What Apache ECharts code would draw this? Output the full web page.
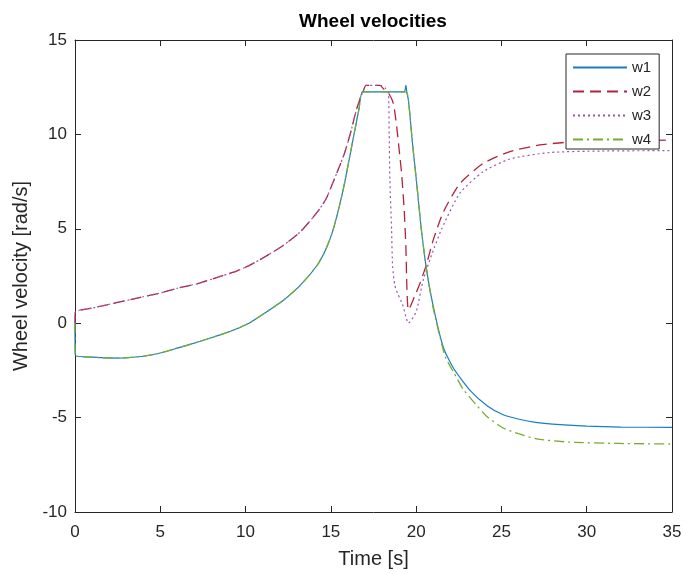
<!DOCTYPE html>
<html>
<head>
<meta charset="utf-8">
<script src="https://cdn.jsdelivr.net/npm/echarts@6/dist/echarts.min.js"></script>
<style>
html,body{margin:0;padding:0;background:#fff;}
#main{width:686px;height:574px;}
</style>
</head>
<body>
<div id="main"></div>
<script>
// ---- data ----
const seriesNames = ['w1', 'w2', 'w3', 'w4'];
const xTicks = [0, 5, 10, 15, 20, 25, 30, 35];
const yTicks = [-10, -5, 0, 5, 10, 15];

const t_w1 = [0, 0.02, 1, 2.5, 4, 5, 6, 7.3, 8.5, 9.3, 10.2, 11.2, 12.2, 13.2, 14.2, 14.7, 15.1, 15.5, 15.8, 16.1, 16.4, 16.65, 16.86, 18, 19.3, 19.4, 19.45, 19.55, 19.8, 20.0, 20.3, 20.6, 21.0, 21.6, 22.2, 23.2, 24.2, 25.1, 26.1, 27, 28, 30, 32, 35];
const v_w1 = [0, -1.7, -1.8, -1.85, -1.75, -1.58, -1.32, -0.97, -0.62, -0.36, 0.0, 0.58, 1.2, 2.0, 3.07, 3.9, 4.85, 6.2, 7.4, 8.8, 10.2, 11.35, 12.25, 12.25, 12.25, 12.6, 12.25, 11.8, 9.4, 7.7, 5.0, 2.9, 0.9, -1.3, -2.4, -3.6, -4.4, -4.85, -5.1, -5.25, -5.35, -5.45, -5.5, -5.52];

const t_w2 = [0, 0.02, 1, 2.5, 4, 5, 6, 7.3, 8.3, 9.3, 10.2, 11.2, 12.2, 13.2, 14.2, 14.7, 15.1, 15.5, 15.8, 16.1, 16.3, 16.5, 16.7, 16.9, 17.06, 17.88, 18.1, 18.37, 18.66, 18.86, 19.05, 19.15, 19.3, 19.4, 19.46, 19.55, 19.9, 20.22, 20.6, 21.0, 21.6, 22.57, 23.94, 25.5, 27.26, 28.8, 31, 35];
const v_w2 = [0, 0.6, 0.8, 1.1, 1.4, 1.6, 1.85, 2.12, 2.42, 2.7, 3.05, 3.55, 4.12, 4.83, 5.88, 6.55, 7.4, 8.3, 9.0, 9.9, 10.6, 11.3, 11.85, 12.3, 12.6, 12.6, 12.4, 12.2, 11.65, 10.4, 8.8, 7.9, 6.0, 4.0, 1.8, 0.7, 1.4, 2.1, 3.1, 4.4, 5.9, 7.4, 8.47, 9.09, 9.44, 9.58, 9.65, 9.7];

const t_w3 = [0, 0.02, 1, 2.5, 4, 5, 6, 7.3, 8.3, 9.3, 10.2, 11.2, 12.2, 13.2, 14.2, 14.7, 15.1, 15.5, 15.8, 16.1, 16.3, 16.5, 16.7, 16.9, 17.06, 17.9, 18.2, 18.37, 18.42, 18.46, 18.56, 18.62, 18.75, 18.95, 19.2, 19.4, 19.54, 19.75, 20.02, 20.42, 20.9, 21.5, 22.57, 23.94, 25.5, 27.84, 30.8, 35];
const v_w3 = [0, 0.6, 0.8, 1.1, 1.4, 1.6, 1.85, 2.12, 2.42, 2.7, 3.05, 3.55, 4.12, 4.83, 5.88, 6.55, 7.4, 8.3, 9.0, 9.9, 10.6, 11.3, 11.85, 12.3, 12.6, 12.6, 12.45, 12.2, 10.0, 7.6, 4.95, 3.0, 2.0, 1.5, 1.0, 0.35, 0.0, 0.2, 0.65, 2.3, 3.6, 5.0, 6.9, 8.03, 8.7, 9.04, 9.12, 9.14];

const t_w4 = [0, 0.02, 1, 2.5, 4, 5, 6, 7.3, 8.5, 9.3, 10.2, 11.2, 12.2, 13.2, 14.2, 14.7, 15.1, 15.5, 15.8, 16.1, 16.4, 16.65, 16.86, 18, 19.42, 19.55, 19.8, 20.0, 20.3, 20.6, 21.0, 21.7, 22.2, 22.76, 23.5, 24.13, 25.1, 26, 27.06, 29, 31.9, 35];
const v_w4 = [0, -1.7, -1.8, -1.85, -1.75, -1.58, -1.32, -0.97, -0.62, -0.36, 0.0, 0.58, 1.2, 2.0, 3.07, 3.9, 4.85, 6.2, 7.4, 8.8, 10.2, 11.35, 12.25, 12.25, 12.25, 11.8, 9.4, 7.7, 5.0, 2.9, 0.8, -1.76, -2.6, -3.5, -4.3, -4.93, -5.55, -5.85, -6.13, -6.3, -6.37, -6.4];

// ---- build chart ----
const pair = (t, v) => t.map((x, i) => [x, v[i]]);
const FONT = '"Liberation Sans", Arial, Helvetica, sans-serif';
const INK = '#262626';

const chart = echarts.init(document.getElementById('main'), null, {renderer: 'canvas'});

const baseX = {
  type: 'value', min: xTicks[0], max: xTicks[xTicks.length - 1], interval: 5,
  splitLine: {show: false},
  axisLine: {show: true, onZero: false, lineStyle: {color: INK, width: 1}},
  axisTick: {show: true, inside: true, length: 6, lineStyle: {color: INK}}
};
const baseY = {
  type: 'value', min: yTicks[0], max: yTicks[yTicks.length - 1], interval: 5,
  splitLine: {show: false},
  axisLine: {show: true, onZero: false, lineStyle: {color: INK, width: 1}},
  axisTick: {show: true, inside: true, length: 6, lineStyle: {color: INK}}
};

function lineSeries(name, data, color, type, width) {
  return {
    name: name, type: 'line', data: data, xAxisIndex: 0, yAxisIndex: 0,
    symbol: 'none', showSymbol: false, smooth: 0.2,
    lineStyle: {color: color, width: width, type: type},
    itemStyle: {color: color},
    emphasis: {disabled: true}
  };
}

const option = {
  animation: false,
  backgroundColor: '#ffffff',
  textStyle: {fontFamily: FONT, color: INK},
  title: {
    text: 'Wheel velocities', left: 373, top: 12, textAlign: 'center', padding: 0,
    textStyle: {fontFamily: FONT, fontSize: 19, fontWeight: 'bold', color: '#000'}
  },
  grid: {left: 75, right: 14, top: 40, bottom: 61, containLabel: false, show: false},
  legend: {
    orient: 'vertical', left: 566, top: 54,
    padding: [6, 8, 2, 6], itemGap: 9, itemWidth: 54, itemHeight: 14,
    itemStyle: {opacity: 0, color: 'rgba(0,0,0,0)', borderWidth: 0},
    backgroundColor: '#fff', borderColor: INK, borderWidth: 1,
    textStyle: {fontFamily: FONT, fontSize: 15, color: INK},
    data: seriesNames
  },
  xAxis: [
    Object.assign({}, baseX, {
      position: 'bottom', name: 'Time [s]', nameLocation: 'middle', nameGap: 37,
      nameTextStyle: {fontFamily: FONT, fontSize: 20, color: INK},
      axisLabel: {fontFamily: FONT, fontSize: 17, color: INK, margin: 12}
    }),
    Object.assign({}, baseX, {position: 'top', axisLabel: {show: false}})
  ],
  yAxis: [
    Object.assign({}, baseY, {
      position: 'left', name: 'Wheel velocity [rad/s]', nameLocation: 'middle', nameGap: 35,
      nameTextStyle: {fontFamily: FONT, fontSize: 20, color: INK},
      axisLabel: {fontFamily: FONT, fontSize: 17, color: INK, margin: 8}
    }),
    Object.assign({}, baseY, {position: 'right', axisLabel: {show: false}})
  ],
  series: [
    lineSeries('w1', pair(t_w1, v_w1), '#1a7cc4', 'solid', 1.2),
    lineSeries('w2', pair(t_w2, v_w2), '#b0243e', [11, 6], 1.3),
    lineSeries('w3', pair(t_w3, v_w3), '#9a55a8', [2, 3], 1.2),
    lineSeries('w4', pair(t_w4, v_w4), '#77AC30', [10, 4, 2, 4], 1.3)
  ]
};
chart.setOption(option);
</script>
</body>
</html>
